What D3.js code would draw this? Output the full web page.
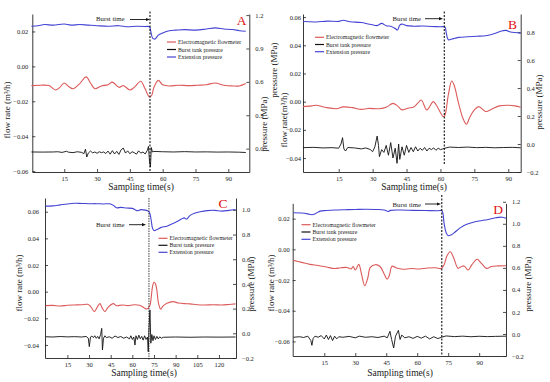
<!DOCTYPE html>
<html lang="en">
<head>
<meta charset="UTF-8">
<title>Burst tests</title>
<script src="https://d3js.org/d3.v7.min.js"></script>
<style>
  body { margin:0; background:#fff; }
  text { font-family: "Liberation Serif", "DejaVu Serif", serif; }
</style>
</head>
<body>
<div id="chart"></div>
<script>
// ---- data: [time (s), value] ----
// panel A
var aBlue = [[0,1.10],[3,1.105],[6,1.115],[10,1.11],[15,1.12],[18,1.11],[22,1.115],[26,1.11],[30,1.105],[35,1.10],[40,1.105],[44,1.095],[48,1.10],[52,1.098],[54,1.095],[54.5,1.06],[55.5,0.99],[56.5,0.985],[58,1.02],[60,1.04],[63,1.06],[66,1.065],[70,1.07],[75,1.065],[80,1.075],[84,1.085],[88,1.075],[92,1.07],[95,1.06],[98,1.055]];
var aRed = [[0,-0.0110],[4,-0.0108],[8,-0.0110],[11,-0.0135],[13,-0.0120],[15,-0.0095],[17,-0.0115],[19,-0.0128],[22,-0.0100],[25,-0.0060],[27,-0.0095],[29,-0.0128],[32,-0.0112],[35,-0.0105],[37,-0.0090],[40,-0.0120],[42,-0.0110],[45,-0.0135],[47,-0.0120],[50,-0.0085],[52,-0.0130],[54,-0.0175],[55,-0.0165],[56,-0.0120],[58,-0.0080],[60,-0.0105],[63,-0.0112],[67,-0.0108],[72,-0.0110],[76,-0.0108],[80,-0.0105],[84,-0.0095],[88,-0.0108],[92,-0.0112],[95,-0.0112],[98,-0.0098]];
var aBlack = [[0,-0.030],[5,-0.031],[10,-0.030],[12,-0.028],[14,-0.034],[16,-0.024],[17,-0.032],[19,-0.036],[21,-0.028],[23,-0.034],[24,-0.045],[24.7,-0.005],[25.3,-0.075],[26,-0.040],[27,-0.022],[28,-0.038],[29,-0.030],[30,-0.042],[31,-0.028],[32,-0.036],[33,-0.030],[34,-0.044],[35,-0.022],[36,-0.050],[37,-0.018],[38,-0.048],[39,-0.024],[40,-0.052],[41,-0.010],[42,0.005],[43,-0.040],[44,-0.020],[45,-0.046],[46,-0.028],[47,-0.036],[48,-0.050],[49,-0.020],[50,-0.040],[51,-0.030],[52,-0.048],[53,-0.015],[53.5,0.02],[54,-0.120],[54.4,-0.165],[54.8,0.010],[55.3,-0.030],[56,-0.025],[60,-0.028],[65,-0.030],[70,-0.027],[75,-0.030],[80,-0.029],[85,-0.031],[90,-0.030],[95,-0.032],[98,-0.035]];
var aBurst = 54.2;

// panel B
var bBlue = [[-0.8,0.875],[5,0.872],[10,0.878],[15,0.876],[17,0.884],[20,0.874],[25,0.868],[28,0.858],[30,0.852],[32,0.846],[34,0.862],[36,0.845],[38,0.842],[40,0.825],[41,0.815],[42,0.85],[43,0.857],[45,0.846],[48,0.842],[52,0.843],[56,0.840],[60,0.838],[62,0.836],[62.5,0.80],[63.5,0.745],[65,0.750],[68,0.762],[72,0.766],[76,0.770],[80,0.774],[84,0.790],[87,0.808],[89,0.812],[91,0.800],[94,0.795],[95.5,0.790]];
var bRed = [[-0.8,-0.0035],[3,-0.0030],[5,-0.0025],[9,-0.0040],[14,-0.0050],[17,-0.0037],[21,-0.0042],[25,-0.0055],[28,-0.0048],[33,-0.0050],[36,-0.0040],[39,-0.0012],[41,-0.0030],[43,-0.0058],[46,-0.0045],[48,-0.0040],[50,-0.0010],[51.5,0.0012],[54,-0.0059],[56.8,0.0000],[58,-0.0020],[61.3,-0.0106],[62,-0.0095],[63.5,0.0050],[65,0.0147],[66,0.0120],[68,-0.0010],[70,-0.0120],[71.5,-0.0160],[73,-0.0110],[75,-0.0059],[77,-0.0035],[80,-0.0070],[83,-0.0050],[86,-0.0030],[90,-0.0025],[93,-0.0030],[95.5,-0.0040]];
var bBlack = [[-0.8,-0.026],[4,-0.024],[8,-0.028],[12,-0.026],[15,-0.030],[16,0.000],[16.7,0.045],[17.3,-0.035],[18,-0.050],[19,-0.025],[22,-0.028],[25,-0.035],[27,-0.028],[29,-0.040],[30,-0.055],[31,-0.020],[32,0.057],[32.6,-0.010],[33,-0.090],[34,-0.040],[35,-0.060],[36,-0.010],[37,-0.080],[38,0.010],[39,-0.100],[40,-0.030],[40.8,-0.138],[41.5,0.000],[42,-0.110],[43,-0.020],[44,-0.080],[45,-0.010],[46,-0.060],[47,-0.025],[48,-0.055],[49,-0.020],[50,-0.050],[51,-0.030],[52,-0.045],[53,-0.025],[54,-0.050],[55,-0.030],[56,-0.040],[57,-0.028],[58,-0.045],[59,-0.030],[60,-0.040],[61,-0.035],[62,-0.030],[64,-0.022],[68,-0.025],[72,-0.022],[76,-0.026],[80,-0.024],[84,-0.027],[88,-0.025],[92,-0.024],[95.5,-0.027]];
var bBurst = 61.7;

// panel C
var cBlue = [[0,1.030],[5,1.032],[10,1.040],[15,1.048],[20,1.053],[25,1.052],[30,1.050],[35,1.050],[40,1.048],[45,1.048],[47,1.035],[49,1.017],[52,1.020],[56,1.015],[60,1.012],[62,1.000],[63.5,0.993],[66,1.002],[69,0.998],[71,0.990],[72,0.975],[73,0.920],[74,0.850],[75,0.832],[77,0.840],[80,0.858],[84,0.868],[88,0.890],[91,0.905],[94,0.925],[96,0.935],[97.5,0.924],[100,0.955],[103,0.972],[107,0.985],[112,0.994],[117,0.996],[122,0.990],[127,0.996],[131.5,1.003]];
var cRed = [[0,-0.0105],[5,-0.0103],[10,-0.0108],[15,-0.0102],[20,-0.0100],[25,-0.0098],[29,-0.0095],[31,-0.0110],[33.7,-0.0150],[36,-0.0110],[37.6,-0.0090],[39,-0.0120],[41,-0.0150],[43,-0.0120],[46.8,-0.0090],[49,-0.0105],[53,-0.0100],[57,-0.0105],[61,-0.0098],[65,-0.0102],[68,-0.0120],[70,-0.0130],[72,-0.0110],[73,-0.0050],[74,0.0040],[75,0.0070],[76,0.0060],[77,0.0010],[78,-0.0080],[79.6,-0.0132],[81,-0.0110],[84,-0.0087],[88,-0.0075],[92,-0.0085],[96,-0.0090],[100,-0.0092],[105,-0.0098],[110,-0.0100],[116,-0.0098],[122,-0.0100],[127,-0.0096],[131.5,-0.0092]];
var cBlack = [[0,-0.028],[5,-0.030],[10,-0.026],[15,-0.029],[20,-0.027],[25,-0.030],[28,-0.025],[29.5,-0.040],[30.2,-0.108],[31,-0.030],[32,-0.022],[33,-0.035],[34,-0.020],[35,-0.040],[36,-0.025],[37,-0.045],[38,-0.010],[38.8,0.040],[39.3,-0.135],[40,-0.040],[41,-0.020],[42,-0.035],[44,-0.028],[46,-0.040],[48,-0.022],[50,-0.034],[52,-0.026],[54,-0.040],[56,-0.030],[58,-0.045],[59,-0.020],[60,-0.050],[61,-0.030],[61.8,-0.095],[62.5,-0.020],[63.5,-0.050],[64.5,-0.015],[65.5,-0.045],[66.5,-0.025],[67.5,-0.055],[68.5,-0.020],[69.5,-0.050],[70.5,-0.030],[71,-0.149],[71.6,0.050],[72.2,0.189],[72.8,-0.080],[73.5,-0.010],[74.3,-0.060],[75,-0.020],[76,-0.050],[77,-0.025],[78,-0.045],[79,-0.028],[80,-0.040],[81.5,-0.032],[90,-0.030],[100,-0.032],[110,-0.030],[120,-0.031],[131.5,-0.030]];
var cBurst = 71.5;

// panel D
var dBlue = [[0,1.100],[4,1.098],[7,1.090],[9,1.082],[11,1.095],[13,1.115],[16,1.120],[20,1.125],[25,1.128],[30,1.130],[35,1.132],[40,1.130],[44,1.125],[46,1.112],[47,1.122],[52,1.125],[58,1.122],[64,1.120],[70,1.119],[72,1.118],[73,1.005],[74,0.920],[75,0.892],[76.5,0.900],[78,0.920],[81,0.965],[84,0.995],[88,1.019],[93,1.034],[98,1.055],[101,1.060],[103,1.050]];
var dRed = [[0,-0.0072],[4,-0.0085],[8,-0.0098],[12,-0.0105],[16,-0.0115],[20,-0.0125],[23,-0.0120],[26,-0.0118],[28,-0.0128],[29,-0.0112],[30,-0.0135],[31.7,-0.0098],[33,-0.0160],[34.6,-0.0237],[36,-0.0190],[37.3,-0.0118],[39.7,-0.0100],[42,-0.0112],[44,-0.0160],[45.4,-0.0195],[46.5,-0.0170],[47.8,-0.0110],[50,-0.0122],[53,-0.0130],[57,-0.0125],[61,-0.0128],[65,-0.0122],[69,-0.0120],[71.7,-0.0125],[73,-0.0100],[74.5,-0.0040],[76,-0.0016],[77.5,-0.0050],[79.8,-0.0124],[81,-0.0115],[82.7,-0.0108],[84.6,-0.0135],[86.5,-0.0100],[89,-0.0065],[91,-0.0090],[93.5,-0.0124],[96,-0.0112],[99,-0.0108],[103,-0.0107]];
var dBlack = [[0,-0.030],[3,-0.025],[5,-0.032],[7,-0.020],[8.5,-0.060],[9,-0.103],[9.6,-0.040],[10.5,-0.020],[12,-0.030],[13.5,-0.015],[15,-0.045],[16,-0.010],[17,-0.050],[18,-0.015],[19,-0.060],[20,-0.020],[21,-0.045],[22,-0.025],[24,-0.030],[27,-0.022],[30,-0.035],[32,-0.020],[35,-0.030],[38,-0.025],[41,-0.032],[44,-0.020],[45.5,-0.035],[46.8,0.024],[47.6,-0.050],[48.6,-0.127],[49.5,-0.020],[50.9,0.033],[51.7,-0.050],[52.5,-0.010],[54,-0.035],[56,-0.025],[58,-0.040],[60,-0.022],[62,-0.038],[64,-0.020],[66,-0.045],[68,-0.025],[70,-0.042],[72,-0.028],[74,-0.018],[78,-0.024],[82,-0.020],[86,-0.025],[90,-0.021],[94,-0.024],[98,-0.022],[103,-0.020]];
var dBurst = 71.9;

// tick labels
var xTicks90 = [15,30,45,60,75,90];
var xTicks120 = [15,30,45,60,75,90,105,120];
var aFlowTicks = [-0.06,-0.04,-0.02,0.00,0.02];
var aPresTicks = [0.0,0.3,0.6,0.9,1.2];
var bFlowTicks = [-0.04,-0.02,0.00,0.02,0.04,0.06];
var bPresTicks = [-0.2,0.0,0.2,0.4,0.6,0.8];
var cFlowTicks = [-0.04,-0.02,0.00,0.02,0.04,0.06];
var cPresTicks = [-0.2,0.0,0.2,0.4,0.6,0.8,1.0];
var dFlowTicks = [-0.06,-0.04,-0.02,0.00,0.02];
var dPresTicks = [-0.2,0.0,0.2,0.4,0.6,0.8,1.0,1.2];
var legendNames = ["Electromagnetic flowmeter","Burst tank pressure","Extension pressure"];

var BLUE = "#4444d4", RED = "#dd5a5a", BLACK = "#111";

var svg = d3.select("#chart").append("svg")
    .attr("width", 550).attr("height", 382)
    .style("background", "#fff");

function styleAxis(g){
    g.attr("font-family", "Liberation Serif").attr("font-size", 6.5);
    g.selectAll("path.domain").attr("stroke", "#222").attr("stroke-width", 0.9);
    g.selectAll(".tick line").attr("stroke", "#222").attr("stroke-width", 0.8);
    g.selectAll(".tick text").attr("fill", "#222");
}

function drawPanel(p){
    var g = svg.append("g");
    var x = d3.scaleLinear().domain(p.xDomain).range([p.left, p.right]);
    var yL = d3.scaleLinear().domain(p.flowDomain).range([p.bottom, p.top]);
    var yR = d3.scaleLinear().domain(p.presDomain).range([p.bottom, p.top]);

    g.append("g").attr("transform", `translate(0,${p.bottom})`)
        .call(d3.axisBottom(x).tickValues(p.xTicks).tickSizeInner(-3).tickSizeOuter(0).tickPadding(4).tickFormat(d3.format("d")))
        .call(styleAxis);
    g.append("g").attr("transform", `translate(${p.left},0)`)
        .call(d3.axisLeft(yL).tickValues(p.flowTicks).tickSizeInner(-3).tickSizeOuter(0).tickPadding(p.leftPad).tickFormat(d3.format(".2f")))
        .call(styleAxis);
    g.append("g").attr("transform", `translate(${p.right},0)`)
        .call(d3.axisRight(yR).tickValues(p.presTicks).tickSizeInner(-3).tickSizeOuter(0).tickPadding(6).tickFormat(d3.format(".1f")))
        .call(styleAxis);

    // smooth curves for flow and extension pressure, raw polyline for the tank
    var lineL = d3.line().x(d => x(d[0])).y(d => yL(d[1])).curve(d3.curveCatmullRom.alpha(0.5));
    var lineRs = d3.line().x(d => x(d[0])).y(d => yR(d[1])).curve(d3.curveCatmullRom.alpha(0.5));
    var lineR = d3.line().x(d => x(d[0])).y(d => yR(d[1]));
    g.append("path").datum(p.blue).attr("d", lineRs).attr("fill", "none").attr("stroke", BLUE).attr("stroke-width", 1.1);
    g.append("path").datum(p.red).attr("d", lineL).attr("fill", "none").attr("stroke", RED).attr("stroke-width", 1.1);
    g.append("path").datum(p.black).attr("d", lineR).attr("fill", "none").attr("stroke", BLACK).attr("stroke-width", 0.9);

    // burst marker
    g.append("line").attr("x1", x(p.burst)).attr("x2", x(p.burst))
        .attr("y1", p.dashTop).attr("y2", p.dashBottom)
        .attr("stroke", "#111").attr("stroke-width", p.dashWidth).attr("stroke-dasharray", p.dashArray);
    g.append("text").attr("x", p.burstText[0]).attr("y", p.burstText[1])
        .attr("font-size", 6.8).attr("fill", "#222").text("Burst time");
    var ax0 = p.arrow[0], ax1 = p.arrow[1], ay = p.arrow[2];
    g.append("line").attr("x1", ax0).attr("x2", ax1 - 3).attr("y1", ay).attr("y2", ay)
        .attr("stroke", "#111").attr("stroke-width", 0.9);
    g.append("path").attr("d", `M${ax1},${ay} L${ax1-4},${ay-1.6} L${ax1-4},${ay+1.6} Z`).attr("fill", "#111");

    // panel letter
    g.append("text").attr("x", p.letter[0]).attr("y", p.letter[1]).attr("text-anchor", "middle")
        .attr("font-size", 13.5).attr("fill", "#e01010").text(p.name);

    // legend
    var cols = [RED, BLACK, BLUE];
    legendNames.forEach(function(n, i){
        var ly = p.legend[1] + i * p.legend[2];
        g.append("line").attr("x1", p.legend[0]).attr("x2", p.legend[0] + 9).attr("y1", ly).attr("y2", ly)
            .attr("stroke", cols[i]).attr("stroke-width", 1.2);
        g.append("text").attr("x", p.legend[0] + 11).attr("y", ly + 2).attr("font-size", 5.8)
            .attr("fill", "#222").text(n);
    });

    // titles
    g.append("text").attr("x", p.xTitle[0]).attr("y", p.xTitle[1]).attr("text-anchor", "middle")
        .attr("font-size", 9.5).attr("fill", "#222").text("Sampling time(s)");
    p.vTitles.forEach(function(t){
        g.append("text").attr("transform", `translate(${t[0]},${t[1]}) rotate(-90)`)
            .attr("text-anchor", "middle").attr("font-size", 9).attr("fill", "#222").text(t[2]);
    });
}

drawPanel({
    name: "A", left: 32.3, right: 249.3, top: 14, bottom: 172, leftPad: 4,
    xDomain: [0.4, 99.6], flowDomain: [-0.0605, 0.0300], presDomain: [-0.21, 1.21],
    xTicks: xTicks90, flowTicks: aFlowTicks, presTicks: aPresTicks,
    blue: aBlue, red: aRed, black: aBlack, burst: aBurst,
    dashTop: 11.5, dashBottom: 172, dashWidth: 1.1, dashArray: "2,1.5",
    burstText: [96, 21], arrow: [130, 150, 19.5],
    letter: [241.5, 24.5], legend: [167, 42, 7.5],
    xTitle: [141, 190],
    vTitles: [[10, 110, "flow rate (m\u00b3/h)"], [267, 124, "pressure (MPa)"]]
});

drawPanel({
    name: "B", left: 303, right: 520.7, top: 14, bottom: 172, leftPad: 2,
    xDomain: [-0.8, 95.5], flowDomain: [-0.0499, 0.0622], presDomain: [-0.2, 0.929],
    xTicks: xTicks90, flowTicks: bFlowTicks, presTicks: bPresTicks,
    blue: bBlue, red: bRed, black: bBlack, burst: bBurst,
    dashTop: 11.5, dashBottom: 165, dashWidth: 1.1, dashArray: "2,1.5",
    burstText: [392.5, 21], arrow: [425, 443, 18.7],
    letter: [512.5, 28.5], legend: [315, 37.3, 7.2],
    xTitle: [414, 190],
    vTitles: [[277, 70, "pressure (MPa)"], [287, 120, "flow rate(m\u00b3/h)"], [542, 102, "pressure (MPa)"]]
});

drawPanel({
    name: "C", left: 45, right: 236, top: 198, bottom: 358, leftPad: 6,
    xDomain: [-0.5, 131.8], flowDomain: [-0.0498, 0.0703], presDomain: [-0.2, 1.096],
    xTicks: xTicks120, flowTicks: cFlowTicks, presTicks: cPresTicks,
    blue: cBlue, red: cRed, black: cBlack, burst: cBurst,
    dashTop: 198, dashBottom: 360, dashWidth: 0.8, dashArray: "1.5,1",
    burstText: [96, 227], arrow: [129, 146, 224.7],
    letter: [223, 207.5], legend: [158.5, 238.3, 7],
    xTitle: [144, 375.5],
    vTitles: [[22, 283, "flow rate  (m\u00b3/h)"], [254, 284, "pressure (MPa)"]]
});

drawPanel({
    name: "D", left: 292.7, right: 506, top: 203.3, bottom: 356, leftPad: 3,
    xDomain: [-0.3, 103], flowDomain: [-0.0695, 0.0300], presDomain: [-0.2, 1.186],
    xTicks: xTicks90, flowTicks: dFlowTicks, presTicks: dPresTicks,
    blue: dBlue, red: dRed, black: dBlack, burst: dBurst,
    dashTop: 195, dashBottom: 356, dashWidth: 1.1, dashArray: "2,1.5",
    burstText: [392.5, 206.5], arrow: [425, 441, 204],
    letter: [498, 213.5], legend: [301.5, 224.7, 7.3],
    xTitle: [400, 375.5],
    vTitles: [[274, 283, "flow rate  (m\u00b3/h)"], [531, 284, "pressure (MPa)"]]
});
</script>
</body>
</html>
